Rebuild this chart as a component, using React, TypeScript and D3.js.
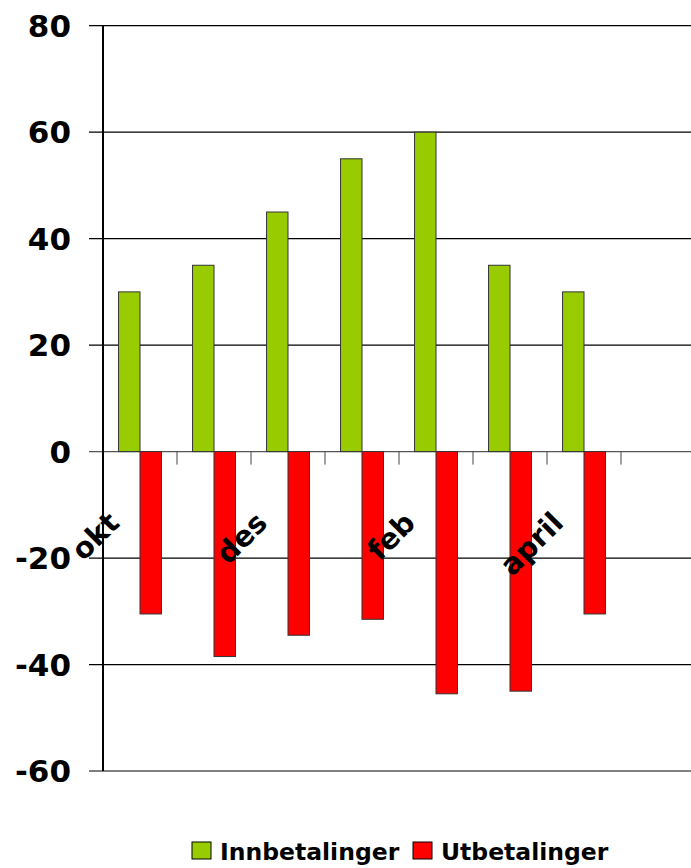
import { useEffect, useRef } from "react";
import * as d3 from "d3";

// months on the x axis (the last slot stays empty)
const months = ["okt", "nov", "des", "jan", "feb", "mars", "april", "mai"];
const shownLabels = ["okt", "des", "feb", "april"];
const innbetalinger = [30, 35, 45, 55, 60, 35, 30, null];
const utbetalinger = [-30.5, -38.5, -34.5, -31.5, -45.5, -45, -30.5, null];
const seriesNames = ["Innbetalinger", "Utbetalinger"];
const seriesColors = ["#99CC00", "#FF0000"];
const yTicks = [-60, -40, -20, 0, 20, 40, 60, 80];

const FONT = "'Comic Sans MS', 'DejaVu Sans', sans-serif";

export default function App() {
    const svgRef = useRef<SVGSVGElement | null>(null);
    const wSVG = 691;
    const hSVG = 868;
    const margin = { top: 25.7, right: -4, bottom: 97, left: 103 };

    useEffect(() => {
        const svg = d3.select(svgRef.current);
        svg.selectAll("*").remove();

        const wG = wSVG - margin.left - margin.right;
        const hG = hSVG - margin.top - margin.bottom;
        const g = svg.append("g").attr("transform", `translate(${margin.left},${margin.top})`);

        const xScale = d3.scaleBand<string>()
            .domain(months)
            .range([0, wG])
            .paddingInner(0.42)
            .paddingOuter(0.21);
        const xInner = d3.scaleBand<string>()
            .domain(seriesNames)
            .range([0, xScale.bandwidth()]);
        const yScale = d3.scaleLinear().domain([-60, 80]).range([hG, 0]);

        // gridlines + tick marks on the left
        g.append("g")
            .selectAll("line")
            .data(yTicks)
            .join("line")
            .attr("x1", -14)
            .attr("x2", wG)
            .attr("y1", (d) => yScale(d))
            .attr("y2", (d) => yScale(d))
            .attr("stroke", (d) => (d === 0 ? "#555" : "#000"))
            .attr("stroke-width", 1.2);

        // y tick labels
        g.append("g")
            .selectAll("text")
            .data(yTicks)
            .join("text")
            .attr("x", -32)
            .attr("y", (d) => yScale(d))
            .attr("dy", "0.36em")
            .attr("text-anchor", "end")
            .style("font-family", FONT)
            .style("font-weight", "bold")
            .style("font-size", "31px")
            .text((d) => String(d));

        // bars
        const rows = months.map((m, i) => ({ m, vals: [innbetalinger[i], utbetalinger[i]] }));
        const groups = g.append("g")
            .selectAll("g")
            .data(rows)
            .join("g")
            .attr("transform", (d) => `translate(${xScale(d.m)},0)`);
        groups.selectAll("rect")
            .data((d) => d.vals.map((v, j) => ({ v, j })).filter((e) => e.v !== null))
            .join("rect")
            .attr("x", (d) => xInner(seriesNames[d.j])!)
            .attr("width", xInner.bandwidth())
            .attr("y", (d) => yScale(Math.max(0, d.v as number)))
            .attr("height", (d) => Math.abs(yScale(d.v as number) - yScale(0)))
            .attr("fill", (d) => seriesColors[d.j])
            .attr("stroke", "#333")
            .attr("stroke-width", 1);

        // category ticks on zero line
        g.append("g")
            .selectAll("line")
            .data(months.slice(1))
            .join("line")
            .attr("x1", (d) => xScale(d)! - (xScale.step() - xScale.bandwidth()) / 2)
            .attr("x2", (d) => xScale(d)! - (xScale.step() - xScale.bandwidth()) / 2)
            .attr("y1", yScale(0))
            .attr("y2", yScale(0) + 13)
            .attr("stroke", "#444")
            .attr("stroke-width", 1);

        // y axis line
        g.append("line")
            .attr("x1", 0)
            .attr("x2", 0)
            .attr("y1", 0)
            .attr("y2", hG)
            .attr("stroke", "#000")
            .attr("stroke-width", 2);

        // rotated month labels
        g.append("g")
            .selectAll("text")
            .data(shownLabels)
            .join("text")
            .attr("text-anchor", "end")
            .attr("transform", (d) => {
                const cx = xScale(d)! + xScale.bandwidth() / 2 - 19;
                return `translate(${cx},${yScale(0) + 73}) rotate(-45)`;
            })
            .style("font-family", FONT)
            .style("font-weight", "bold")
            .style("font-size", "29px")
            .text((d) => d);

        // legend
        const legend = svg.append("g");
        const legendItems = [
            { x: 192, tx: 220 },
            { x: 413, tx: 441 },
        ];
        seriesNames.forEach((name, i) => {
            legend.append("rect")
                .attr("x", legendItems[i].x)
                .attr("y", 842)
                .attr("width", 19)
                .attr("height", 17)
                .attr("fill", seriesColors[i])
                .attr("stroke", "#000")
                .attr("stroke-width", 1);
            legend.append("text")
                .attr("x", legendItems[i].tx)
                .attr("y", 860)
                .style("font-family", FONT)
                .style("font-weight", "bold")
                .style("font-size", "23.5px")
                .text(name);
        });
    }, []);

    return (
        <div style={{ position: "absolute", left: 0, top: 0, width: wSVG, height: hSVG, background: "#fff" }}>
            <svg ref={svgRef} width={wSVG} height={hSVG}></svg>
        </div>
    );
}
